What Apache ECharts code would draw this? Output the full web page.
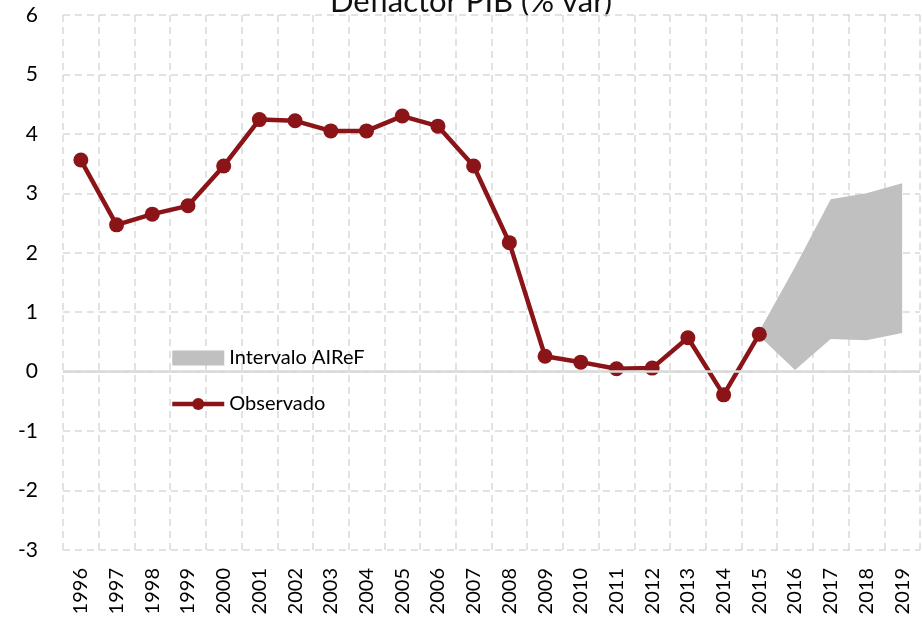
<!DOCTYPE html>
<html>

<head>
	<meta charset="utf-8" />
	<title>Deflactor PIB (% var)</title>
	<script src="https://cdn.jsdelivr.net/npm/echarts@6/dist/echarts.min.js"></script>
	<style>
		* {
			margin: 0;
			padding: 0;
		}

		html,
		body {
			width: 922px;
			height: 620px;
			background: #fff;
		}

		#main {
			width: 922px;
			height: 620px;
		}
	</style>
</head>

<body>
	<div id="main"></div>
	<script>
		// 数据
		var years = ['1996', '1997', '1998', '1999', '2000', '2001', '2002', '2003', '2004', '2005', '2006', '2007',
			'2008', '2009', '2010', '2011', '2012', '2013', '2014', '2015', '2016', '2017', '2018', '2019'];
		var observado = [3.56, 2.47, 2.65, 2.79, 3.46, 4.24, 4.22, 4.05, 4.05, 4.30, 4.13, 3.46,
			2.17, 0.26, 0.16, 0.05, 0.06, 0.57, -0.39, 0.63, null, null, null, null];
		// 区间下限 / 上限 (2015-2019)
		var bandLower = [null, null, null, null, null, null, null, null, null, null, null, null,
			null, null, null, null, null, null, null, 0.60, 0.03, 0.55, 0.53, 0.65];
		var bandUpper = [null, null, null, null, null, null, null, null, null, null, null, null,
			null, null, null, null, null, null, null, 0.68, 1.76, 2.90, 3.00, 3.17];
		var yTicks = [-3, -2, -1, 0, 1, 2, 3, 4, 5, 6];

		var bandDiff = bandUpper.map(function (v, i) {
			return v == null ? null : +(v - bandLower[i]).toFixed(2);
		});

		var font = 'Lato, "DejaVu Sans", sans-serif';
		var gridColor = '#d9d9d9';
		var red = '#8a1417';

		var myChart = echarts.init(document.getElementById('main'));
		var option = {
			animation: false,
			textStyle: { fontFamily: font, color: '#000' },
			graphic: [{
				type: 'text',
				x: 471,
				y: 17,
				style: {
					text: 'Deflactor PIB (% var)',
					textAlign: 'center',
					textVerticalAlign: 'bottom',
					font: '31px ' + font,
					fill: '#111'
				}
			}],
			grid: {
				left: 63,
				right: 2,
				top: 15,
				bottom: 70
			},
			legend: {
				orient: 'vertical',
				left: 170,
				top: 348,
				padding: 0,
				itemWidth: 52,
				itemHeight: 15,
				itemGap: 26,
				textStyle: { fontSize: 20, color: '#000', fontFamily: font, lineHeight: 20 },
				data: [
					{ name: 'Intervalo AIReF', icon: 'rect', itemStyle: { color: '#c0c0c0' } },
					{ name: 'Observado', lineStyle: { width: 4.5, color: red }, itemStyle: { color: red } }
				]
			},
			xAxis: {
				type: 'category',
				data: years,
				boundaryGap: true,
				axisLine: { show: false },
				axisTick: { show: false },
				axisLabel: {
					rotate: 90,
					margin: 18,
					fontSize: 20,
					color: '#000',
					fontFamily: font,
					interval: 0
				},
				splitLine: {
					show: true,
					interval: 0,
					lineStyle: { color: gridColor, type: [7, 5], width: 1.5 }
				}
			},
			yAxis: {
				type: 'value',
				min: yTicks[0],
				max: yTicks[yTicks.length - 1],
				interval: 1,
				axisLine: { show: false },
				axisTick: { show: false },
				axisLabel: {
					margin: 25,
					fontSize: 21,
					color: '#000',
					fontFamily: font
				},
				splitLine: {
					show: true,
					lineStyle: { color: gridColor, type: [7, 5], width: 1.5 }
				}
			},
			series: [
				{
					name: 'lower',
					type: 'line',
					stack: 'band',
					data: bandLower,
					symbol: 'none',
					lineStyle: { opacity: 0 },
					silent: true,
					z: 1,
					markLine: {
						silent: true,
						symbol: 'none',
						label: { show: false },
						lineStyle: { color: gridColor, type: 'solid', width: 2.5 },
						data: [{ yAxis: 0 }]
					}
				},
				{
					name: 'Intervalo AIReF',
					type: 'line',
					stack: 'band',
					data: bandDiff,
					symbol: 'none',
					itemStyle: { color: '#c0c0c0' },
					lineStyle: { width: 0, opacity: 0 },
					areaStyle: { color: '#c0c0c0', opacity: 1 },
					z: 2
				},
				{
					name: 'Observado',
					type: 'line',
					data: observado,
					symbol: 'circle',
					symbolSize: 15,
					itemStyle: { color: red },
					lineStyle: { color: red, width: 4.5 },
					z: 3
				}
			]
		};
		myChart.setOption(option);
	</script>
</body>

</html>
